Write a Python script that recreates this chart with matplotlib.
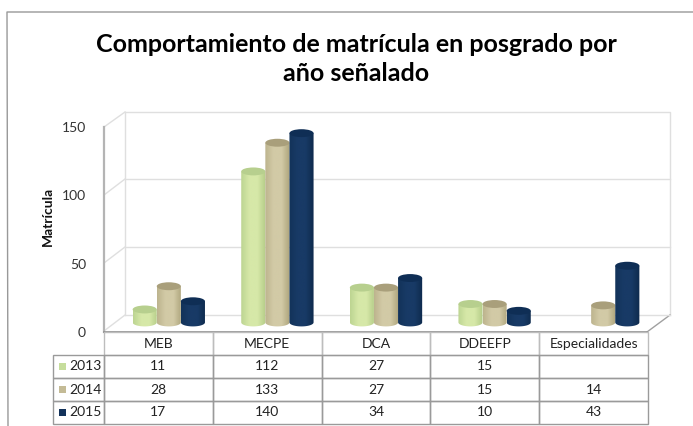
import numpy as np
import matplotlib
matplotlib.use("Agg")
import matplotlib.pyplot as plt
from matplotlib.patches import Ellipse, PathPatch, Rectangle
from matplotlib.path import Path
from matplotlib.table import Table
from matplotlib.transforms import Affine2D
from matplotlib.colors import LinearSegmentedColormap

# Data
categories = ["MEB", "MECPE", "DCA", "DDEEFP", "Especialidades"]
years = ["2013", "2014", "2015"]
values_2013 = [11, 112, 27, 15, None]
values_2014 = [28, 133, 27, 15, 14]
values_2015 = [17, 140, 34, 10, 43]
y_ticks = [0, 50, 100, 150]

series = [values_2013, values_2014, values_2015]
W, H = 693, 426

# left, centre, right, cap colours per series
palette = [("#bdd592", "#d6e8a8", "#b4cc88", "#b7cf8e"),
           ("#bdb48e", "#d2caa6", "#ada47c", "#a99f7b"),
           ("#133359", "#183a66", "#0e2a4c", "#0f2e55")]
key_colours = ["#c6dd9c", "#c4bb96", "#12325a"]

plt.rcParams["font.family"] = ["Lato", "DejaVu Sans"]

fig = plt.figure(figsize=(W / 100, H / 100), dpi=100)
bg = fig.add_axes([0, 0, 1, 1], zorder=0)
bg.set_xlim(0, W)
bg.set_ylim(H, 0)
bg.axis("off")

# outer chart frame
bg.plot([8, 7, W], [H, 12, 12], color="#999999", lw=1)

# 3D box around the plot
wall = "#dfdfdf"
bg.plot([125, 670, 670], [112, 112, 315], color=wall, lw=1)
bg.plot([125, 125], [112, 315], color=wall, lw=1)
bg.plot([104, 125], [127, 112], color=wall, lw=1)
bg.plot([647, 670], [332, 315], color="#a0a0a0", lw=1)
for gy, fy in zip([179, 247, 315], [195, 263, 331]):
    bg.plot([125, 670], [gy, gy], color=wall, lw=1)
    bg.plot([104, 125], [fy, gy], color=wall, lw=1)
bg.plot([104, 104], [127, 332], color="#b4b4b4", lw=1.6)
bg.plot([104, 647], [332, 332], color="#8c8c8c", lw=1.2)

# Title and axis label
bg.text(356, 59, "Comportamiento de matrícula en posgrado por\naño señalado",
        ha="center", va="center", fontsize=18, fontweight="bold", color="black",
        linespacing=1.32)
bg.text(48, 216, "Matrícula", rotation=90, ha="center", va="center",
        fontsize=10, fontweight="bold", color="#111111")

# Plot axes sit on the front plane of the box
ax = fig.add_axes([104 / W, 1 - 332 / H, (647 - 104) / W, (332 - 127) / H], zorder=2)
ax.patch.set_alpha(0)
for s in ax.spines.values():
    s.set_visible(False)
ax.set_xticks([])
ax.set_yticks(y_ticks)
ax.tick_params(axis="y", length=0, pad=13, labelsize=10, labelcolor="#333333")

# bars are pushed back into the box
shift = ax.transData + Affine2D().translate(10.5, 7.5)
bar_w = 0.222
cap_h = 5.8

for i, (vals, cols) in enumerate(zip(series, palette)):
    cmap = LinearSegmentedColormap.from_list("c", [cols[0], cols[1], cols[1], cols[2]])
    for j, v in enumerate(vals):
        if v is None:
            continue
        x0 = j + 0.5 + (i - 1.5) * bar_w
        x1 = x0 + bar_w
        xc = (x0 + x1) / 2
        t = np.linspace(np.pi, 2 * np.pi, 30)
        verts = [(x0, v)] + list(zip(xc + bar_w / 2 * np.cos(t), 1.5 + cap_h / 2 * np.sin(t))) + [(x1, v), (x0, v)]
        codes = [Path.MOVETO] + [Path.LINETO] * (len(verts) - 2) + [Path.CLOSEPOLY]
        body = PathPatch(Path(verts, codes), transform=shift, fc="none", ec="none")
        ax.add_patch(body)
        im = ax.imshow(np.linspace(0, 1, 64).reshape(1, -1), cmap=cmap, aspect="auto",
                       extent=(x0, x1, -cap_h, v), transform=shift, zorder=3 + i, interpolation="bilinear")
        im.set_clip_path(body)
        ax.add_patch(Ellipse((xc, v), bar_w, cap_h, transform=shift, fc=cols[3], ec="none", zorder=3 + i))
ax.set_xlim(0, 5)
ax.set_ylim(0, 150)

# Data table under the axes
tax = fig.add_axes([53 / W, 1 - 424 / H, (648 - 53) / W, (424 - 332) / H], zorder=1)
tax.axis("off")
tbl = Table(tax, bbox=[0, 0, 1, 1])
label_w = 51 / 595
col_w = (1 - label_w) / 5
row_h = 0.25
for c, name in enumerate(categories):
    cell = tbl.add_cell(0, c + 1, col_w, row_h, text=name, loc="center")
    cell.set_edgecolor("#bdbdbd")
    cell.set_facecolor("none")
for r, (year, vals) in enumerate(zip(years, series)):
    cell = tbl.add_cell(r + 1, 0, label_w, row_h, text=year, loc="right")
    cell.set_edgecolor("#9a9a9a")
    cell.PAD = 0.05
    cell.set_facecolor("none")
    for c, v in enumerate(vals):
        cell = tbl.add_cell(r + 1, c + 1, col_w, row_h, text="" if v is None else str(v), loc="center")
        cell.set_edgecolor("#9a9a9a")
        cell.set_facecolor("none")
tbl.auto_set_font_size(False)
tbl.set_fontsize(10)
for cell in tbl.get_celld().values():
    cell.get_text().set_color("#222222")
tax.add_table(tbl)

# legend keys inside the first table column
for r, colour in enumerate(key_colours):
    yc = 1 - row_h * (r + 1.5)
    tax.add_patch(Rectangle((0.0095, yc - 0.04), 0.0118, 0.08, transform=tax.transAxes,
                            fc=colour, ec="none", zorder=5))

fig.savefig("out.png", dpi=100)
